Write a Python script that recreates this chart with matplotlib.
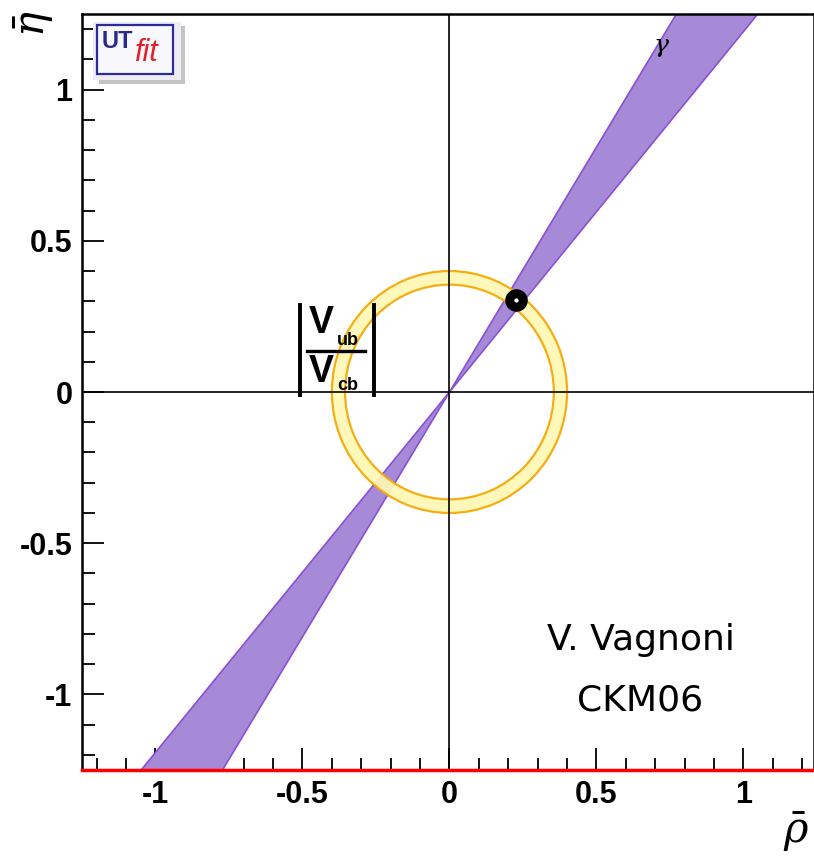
import numpy as np
import matplotlib
matplotlib.use("Agg")
import matplotlib.pyplot as plt
from matplotlib.patches import Wedge, Polygon, Rectangle
from matplotlib.ticker import MultipleLocator

# Constraint inputs in the (rho-bar, eta-bar) plane
gamma_band_deg = [50.0, 58.3]          # angular range of the gamma constraint (degrees)
vub_vcb_radii = [0.355, 0.400]         # inner / outer radius of the |Vub/Vcb| ring
apex_point = [0.228, 0.305]            # fitted apex (rho-bar, eta-bar)
x_range = [-1.25, 1.24]
y_range = [-1.25, 1.25]
x_ticks = [-1, -0.5, 0, 0.5, 1]
y_ticks = [-1, -0.5, 0, 0.5, 1]
tick_labels = ["-1", "-0.5", "0", "0.5", "1"]
credit_lines = ["V. Vagnoni", "CKM06"]

W, H = 814, 861
fig = plt.figure(figsize=(W / 100, H / 100), dpi=100)
ax = fig.add_axes([82 / W, (H - 770) / H, (W - 82) / W, (770 - 14) / H])
ax.set_xlim(*x_range)
ax.set_ylim(*y_range)

# gamma wedge: a double cone through the origin
R = 5.0
a0, a1 = np.radians(gamma_band_deg)
for s in (1, -1):
    pts = [(0, 0), (s * R * np.cos(a0), s * R * np.sin(a0)),
           (s * R * np.cos(a1), s * R * np.sin(a1))]
    ax.add_patch(Polygon(pts, closed=True, facecolor="#a68ad8",
                         edgecolor="#8a50d4", lw=1.2, zorder=2))

# |Vub/Vcb| ring
r_in, r_out = vub_vcb_radii
ax.add_patch(Wedge((0, 0), r_out, 0, 360, width=r_out - r_in,
                   facecolor="#fff8b4", edgecolor="#f5a800", lw=1.6,
                   alpha=0.92, zorder=3))

# axes through the origin
ax.axhline(0, color="black", lw=1.2, zorder=4)
ax.axvline(0, color="black", lw=1.2, zorder=4)

# apex
ax.scatter([apex_point[0]], [apex_point[1]], s=95, facecolor="white",
           edgecolor="black", linewidth=6.5, zorder=6)

# red boundary along the bottom
ax.axhline(y_range[0], color="red", lw=2.5, zorder=7, clip_on=False)

# ticks
ax.set_xticks(x_ticks)
ax.set_yticks(y_ticks)
ax.set_xticklabels(tick_labels)
ax.set_yticklabels(tick_labels)
ax.xaxis.set_minor_locator(MultipleLocator(0.1))
ax.yaxis.set_minor_locator(MultipleLocator(0.1))
ax.tick_params(which="major", direction="in", length=16, width=1.3,
               labelsize=22, pad=7, top=False, right=False)
ax.tick_params(which="minor", direction="in", length=9, width=1.3,
               top=False, right=False)
for lab in ax.get_xticklabels() + ax.get_yticklabels():
    lab.set_fontweight("bold")
    lab.set_family("Liberation Sans")
for sp in ax.spines.values():
    sp.set_linewidth(1.8)

# axis titles
fig.text(34 / W, 1 - 24 / H, r"$\bar{\eta}$", rotation=90, fontsize=30,
         ha="center", va="center", math_fontfamily="dejavuserif")
fig.text(796 / W, 1 - 832 / H, r"$\bar{\rho}$", fontsize=30,
         ha="center", va="center", math_fontfamily="dejavuserif")

# gamma label
ax.text(0.72, 1.14, r"$\gamma$", fontsize=18, ha="center", va="center",
        math_fontfamily="dejavuserif", zorder=8)

# |Vub/Vcb| label
lbl = dict(fontweight="bold", ha="center", va="baseline",
           family="Liberation Sans", zorder=8)
ax.text(-0.435, 0.195, "V", fontsize=27, **lbl)
ax.text(-0.347, 0.156, "ub", fontsize=13, **lbl)
ax.text(-0.435, 0.033, "V", fontsize=27, **lbl)
ax.text(-0.347, 0.005, "cb", fontsize=13, **lbl)
ax.plot([-0.483, -0.289], [0.136, 0.136], color="black", lw=2.4, zorder=8)
ax.plot([-0.51, -0.51], [-0.01, 0.288], color="black", lw=2.8, zorder=8)
ax.plot([-0.258, -0.258], [-0.01, 0.288], color="black", lw=2.8, zorder=8)

# credit text
for i, line in enumerate(credit_lines):
    ax.text(0.65, -0.82 - i * 0.2, line, fontsize=26, ha="center",
            va="center", family="DejaVu Sans", zorder=8)

# UTfit logo
fig.patches.append(Rectangle((99 / W, 1 - 84 / H), 86 / W, 58 / H,
                             transform=fig.transFigure, facecolor="#c4c4c4",
                             edgecolor="none", zorder=9))
fig.patches.append(Rectangle((93 / W, 1 - 80 / H), 88 / W, 58 / H,
                             transform=fig.transFigure, facecolor="#ececf2",
                             edgecolor="none", zorder=10))
fig.patches.append(Rectangle((97 / W, 1 - 74 / H), 76 / W, 49 / H,
                             transform=fig.transFigure, facecolor="#f8f8fc",
                             edgecolor="#2a2a9a", lw=1.6, zorder=11))
fig.text(117 / W, 1 - 42 / H, "UT", fontsize=17, fontweight="bold",
         color="#2a2a8a", ha="center", va="center",
         family="Liberation Sans", zorder=12)
fig.text(147 / W, 1 - 53 / H, "fit", fontsize=22, style="italic",
         color="#e0202a", ha="center", va="center",
         family="Liberation Sans", zorder=12)

fig.savefig("out.png", dpi=100)
